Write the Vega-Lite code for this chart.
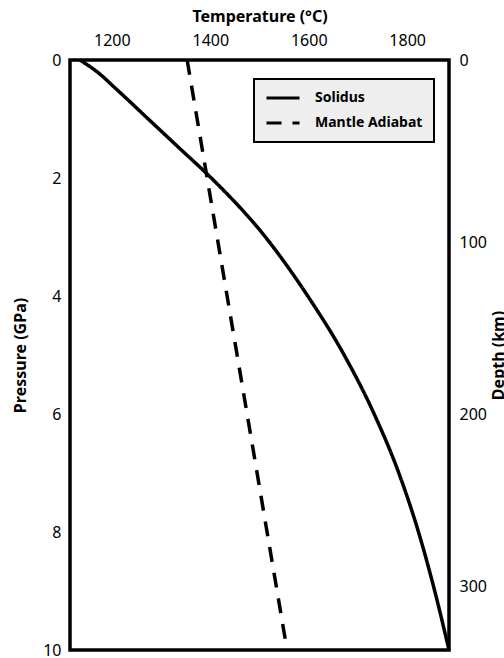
{
  "$schema": "https://vega.github.io/schema/vega-lite/v6.json",
  "autosize": {"type": "none"},
  "width": 379,
  "height": 590,
  "padding": {"left": 70, "top": 60, "right": 55, "bottom": 8},
  "config": {
    "font": "Noto Sans",
    "view": {"stroke": "black", "strokeWidth": 3.5},
    "axis": {"domain": false, "ticks": false, "grid": false, "labelFont": "Noto Sans", "labelFontSize": 16, "labelColor": "black", "titleFont": "Noto Sans", "titleFontSize": 16, "titleFontWeight": "bold", "titleColor": "black"}
  },
  "datasets": {
    "curves": [
      {"curve": "Solidus", "T": 1135, "P": 0},
      {"curve": "Solidus", "T": 1170, "P": 0.2},
      {"curve": "Solidus", "T": 1210, "P": 0.5},
      {"curve": "Solidus", "T": 1274, "P": 1.0},
      {"curve": "Solidus", "T": 1338, "P": 1.5},
      {"curve": "Solidus", "T": 1402, "P": 2.0},
      {"curve": "Solidus", "T": 1512, "P": 3.0},
      {"curve": "Solidus", "T": 1598, "P": 4.0},
      {"curve": "Solidus", "T": 1672, "P": 5.0},
      {"curve": "Solidus", "T": 1733, "P": 6.0},
      {"curve": "Solidus", "T": 1783, "P": 7.0},
      {"curve": "Solidus", "T": 1823, "P": 8.0},
      {"curve": "Solidus", "T": 1856, "P": 9.0},
      {"curve": "Solidus", "T": 1885, "P": 10},
      {"curve": "Mantle Adiabat", "T": 1353, "P": 0},
      {"curve": "Mantle Adiabat", "T": 1556, "P": 10}
    ],
    "depth": [
      {"depth": 0, "P": 0},
      {"depth": 100, "P": 3.085},
      {"depth": 200, "P": 6.0},
      {"depth": 300, "P": 8.93}
    ]
  },
  "layer": [
    {
      "data": {"name": "curves"},
      "mark": {"type": "line", "strokeWidth": 3.5, "color": "black", "strokeCap": "butt", "interpolate": "monotone"},
      "encoding": {
        "x": {"field": "T", "type": "quantitative", "scale": {"domain": [1115, 1885], "nice": false, "zero": false}, "axis": {"orient": "top", "title": "Temperature (°C)", "values": [1200, 1400, 1600, 1800], "format": "d", "labelPadding": 12, "titlePadding": 8}},
        "y": {"field": "P", "type": "quantitative", "scale": {"domain": [0, 10], "reverse": true, "nice": false, "zero": false}, "axis": {"orient": "left", "title": "Pressure (GPa)", "values": [0, 2, 4, 6, 8, 10], "labelPadding": 9, "titlePadding": 14}},
        "order": {"field": "P", "type": "quantitative"},
        "strokeDash": {"field": "curve", "type": "nominal", "scale": {"domain": ["Solidus", "Mantle Adiabat"], "range": [[1, 0], [15, 11]]},
          "legend": {"orient": "none", "legendX": 184, "legendY": 19, "title": null, "fillColor": "#eeeeee", "strokeColor": "black", "padding": 11, "clipHeight": 16, "symbolType": "stroke", "symbolSize": 1089, "symbolStrokeWidth": 3, "symbolStrokeColor": "black", "labelFont": "Noto Sans", "labelFontSize": 14, "labelFontWeight": "bold", "labelColor": "black", "labelOffset": 14, "rowPadding": 9, "cornerRadius": 0,
            "encode": {"legend": {"update": {"strokeWidth": {"value": 2}}}}}}
      }
    },
    {
      "data": {"name": "depth"},
      "mark": {"type": "point", "opacity": 0},
      "encoding": {
        "y": {"field": "P", "type": "quantitative", "scale": {"domain": [0, 10], "reverse": true, "nice": false, "zero": false}, "axis": {"orient": "right", "title": "Depth (km)", "values": [0, 3.085, 6.0, 8.93], "labelExpr": "datum.value < 1 ? '0' : datum.value < 4 ? '100' : datum.value < 7 ? '200' : '300'", "labelPadding": 10, "titlePadding": 20, "titleAngle": 270}}
      }
    }
  ],
  "resolve": {"scale": {"y": "independent"}}
}
